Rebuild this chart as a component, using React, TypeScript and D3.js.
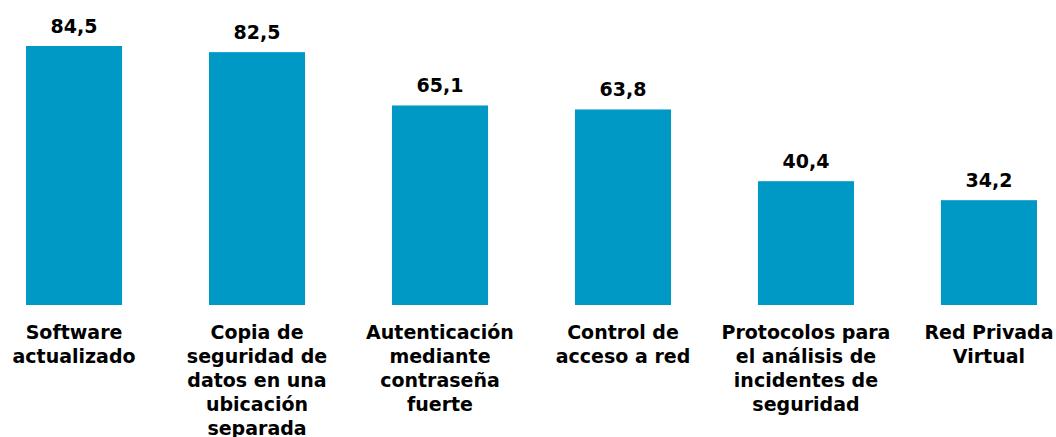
import React from 'react'
import * as d3 from 'd3'

const categories = [
    ['Software', 'actualizado'],
    ['Copia de', 'seguridad de', 'datos en una', 'ubicación', 'separada'],
    ['Autenticación', 'mediante', 'contraseña', 'fuerte'],
    ['Control de', 'acceso a red'],
    ['Protocolos para', 'el análisis de', 'incidentes de', 'seguridad'],
    ['Red Privada', 'Virtual'],
]
const values = [84.5, 82.5, 65.1, 63.8, 40.4, 34.2]

const width = 1056
const height = 437
const baseY = 305
const barColor = '#0099c6'
const font = '"DejaVu Sans", Verdana, sans-serif'

function App() {
    const keys = categories.map((c) => c.join(' '))

    // band scale: bars are 96px wide on a 183px step
    const xScale = d3.scaleBand().domain(keys).range([26, 1037]).paddingInner(0.475).paddingOuter(0)
    const yScale = d3.scaleLinear().domain([0, 100]).range([baseY, baseY - 306.5])
    const fmt = (v: number) => d3.format('.1f')(v).replace('.', ',')

    return (
        <svg width={width} height={height} style={{ position: 'absolute', left: 0, top: 0 }}>
            {values.map((v, i) => {
                const x = xScale(keys[i]) as number
                const cx = x + xScale.bandwidth() / 2
                return (
                    <g key={keys[i]}>
                        <rect x={x} y={yScale(v)} width={xScale.bandwidth()} height={baseY - yScale(v)} fill={barColor} />
                        <text x={cx} y={yScale(v) - 13} textAnchor="middle" fontFamily={font} fontWeight="bold" fontSize={19} fill="#000">
                            {fmt(v)}
                        </text>
                        <text textAnchor="middle" fontFamily={font} fontWeight="bold" fontSize={19} fill="#000">
                            {categories[i].map((line, j) => (
                                <tspan key={j} x={cx} y={baseY + 34 + j * 24}>{line}</tspan>
                            ))}
                        </text>
                    </g>
                )
            })}
        </svg>
    )
}

export default App
